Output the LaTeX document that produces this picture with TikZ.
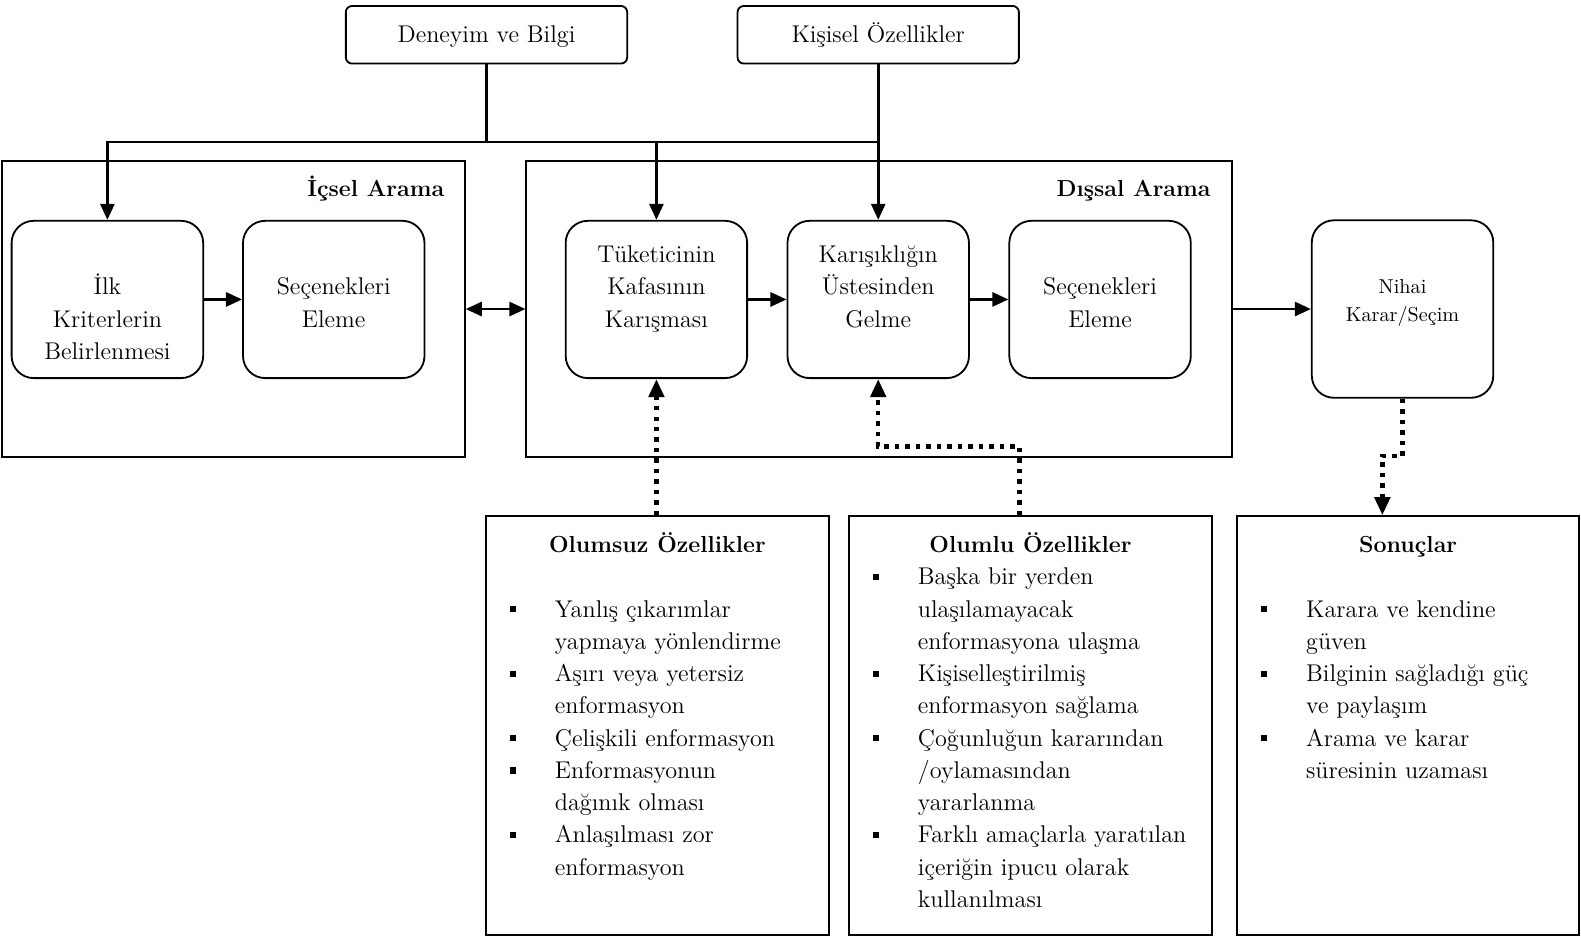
\documentclass[tikz,border=0pt]{standalone}
\usepackage{fontspec}
\usepackage{tikz}
\usetikzlibrary{arrows.meta}

\newcommand{\sqbullet}{\rule[2.3pt]{3.2pt}{3.2pt}}
\newcommand{\stack}[1]{\begin{tabular}[t]{@{}c@{}}#1\end{tabular}}
\newcommand{\blist}[1]{\begin{tabular}[t]{@{}p{22.5pt}@{}l@{}}#1\end{tabular}}

\begin{document}
\begin{tikzpicture}[x=0.5pt,y=-0.5pt,
            top node/.style={draw,line width=0.9pt,rounded corners=3pt,minimum width=139.5pt,minimum height=28.5pt,text height=10pt,text depth=2pt,font=\fontsize{12}{16}\selectfont},
            frame node/.style={draw,line width=0.9pt,minimum height=146.5pt},
            proc node/.style={draw,line width=0.9pt,rounded corners=11pt,minimum width=90pt,minimum height=78pt},
            list node/.style={draw,line width=0.9pt,minimum height=207.5pt},
            body text/.style={inner sep=0pt,font=\fontsize{12}{16}\selectfont},
            head text/.style={inner sep=0pt,font=\fontsize{11.5}{16}\selectfont\bfseries},
            solid arrow/.style={line width=1.3pt,-{Triangle[length=8pt,width=7pt]}},
            both arrow/.style={line width=1.3pt,{Triangle[length=8pt,width=7pt]}-{Triangle[length=8pt,width=7pt]}},
            dot arrow/.style={line width=2.2pt,dash pattern=on 2.2pt off 3pt,-{Triangle[length=9pt,width=7.5pt]}},
            ]
            \useasboundingbox (0,0) rectangle (1568,929);

            \node[top node] (deneyim) at (482.5,34.5) {Deneyim ve Bilgi};
            \node[top node] (kisisel) at (871,34.5) {Kişisel Özellikler};

            \node[frame node,minimum width=229.5pt] (icsel) at (231.5,306.5) {};
            \node[frame node,minimum width=350pt] (dissal) at (872,306.5) {};
            \node[head text,anchor=base east] (icselt) at (441,195) {İçsel Arama};
            \node[head text,anchor=base east] (dissalt) at (1201,195) {Dışsal Arama};

            \node[proc node,minimum width=95pt] (ilk) at (106.5,297) {};
            \node[proc node] (secic) at (331,297) {};
            \node[proc node] (tuk) at (651,297) {};
            \node[proc node] (karis) at (871,297) {};
            \node[proc node] (secdis) at (1091,297) {};
            \node[proc node,minimum height=88pt] (nihai) at (1391,306.5) {};

            \node[body text,anchor=base] (ilkt) at (106.5,292.5) {\stack{İlk\\Kriterlerin\\Belirlenmesi}};
            \node[body text,anchor=base] (secict) at (331,292.5) {\stack{Seçenekleri\\Eleme}};
            \node[body text,anchor=base] (tukt) at (651,260.5) {\stack{Tüketicinin\\Kafasının\\Karışması}};
            \node[body text,anchor=base] (karist) at (871,260.5) {\stack{Karışıklığın\\Üstesinden\\Gelme}};
            \node[body text,anchor=base] (secdist) at (1091,292.5) {\stack{Seçenekleri\\Eleme}};
            \node[body text,font=\fontsize{10}{14.2}\selectfont,anchor=base] (nihait) at (1391,290.6) {\stack{Nihai\\Karar/Seçim}};

            \node[list node,minimum width=170pt] (olumsuz) at (652,719.5) {};
            \node[list node,minimum width=180pt] (olumlu) at (1022,719.5) {};
            \node[list node,minimum width=169.5pt] (sonuc) at (1396.5,719.5) {};
            \node[head text,anchor=base] (olumsuzt) at (652,548) {Olumsuz Özellikler};
            \node[head text,anchor=base] (olumlut) at (1022,548) {Olumlu Özellikler};
            \node[head text,anchor=base] (sonuct) at (1396.5,548) {Sonuçlar};

            \node[body text,anchor=base west] (olumsuzl) at (505,612) {\blist{%
                \sqbullet & Yanlış çıkarımlar\\
                 & yapmaya yönlendirme\\
                \sqbullet & Aşırı veya yetersiz\\
                 & enformasyon\\
                \sqbullet & Çelişkili enformasyon\\
                \sqbullet & Enformasyonun\\
                 & dağınık olması\\
                \sqbullet & Anlaşılması zor\\
                 & enformasyon}};
            \node[body text,anchor=base west] (olumlul) at (865,580) {\blist{%
                \sqbullet & Başka bir yerden\\
                 & ulaşılamayacak\\
                 & enformasyona ulaşma\\
                \sqbullet & Kişiselleştirilmiş\\
                 & enformasyon sağlama\\
                \sqbullet & Çoğunluğun kararından\\
                 & /oylamasından\\
                 & yararlanma\\
                \sqbullet & Farklı amaçlarla yaratılan\\
                 & içeriğin ipucu olarak\\
                 & kullanılması}};
            \node[body text,anchor=base west] (sonucl) at (1250,612) {\blist{%
                \sqbullet & Karara ve kendine\\
                 & güven\\
                \sqbullet & Bilginin sağladığı güç\\
                 & ve paylaşım\\
                \sqbullet & Arama ve karar\\
                 & süresinin uzaması}};

            \coordinate (bus) at (482.5,141);
            \coordinate (olmkink) at (1011,443);
            \coordinate (sonkink) at (1371,452);

            \draw[line width=1.3pt] (deneyim) -- (bus);
            \draw[line width=1.3pt] (bus) -- (bus -| kisisel);
            \draw[solid arrow] (bus) -| (ilk);
            \draw[solid arrow] (bus) -| (tuk);
            \draw[solid arrow] (kisisel) -- (karis);
            \draw[solid arrow] (ilk) -- (secic);
            \draw[solid arrow] (tuk) -- (karis);
            \draw[solid arrow] (karis) -- (secdis);
            \draw[both arrow] (icsel) -- (dissal);
            \draw[solid arrow] (dissal) -- (nihai);
            \draw[dot arrow] (tuk.south |- olumsuz.north) -- (tuk);
            \draw[dot arrow] (olmkink |- olumlu.north) -- (olmkink) -| (karis);
            \draw[dot arrow] (nihai) |- (sonkink) -- (sonkink |- sonuc.north);
        \end{tikzpicture}
\end{document}
